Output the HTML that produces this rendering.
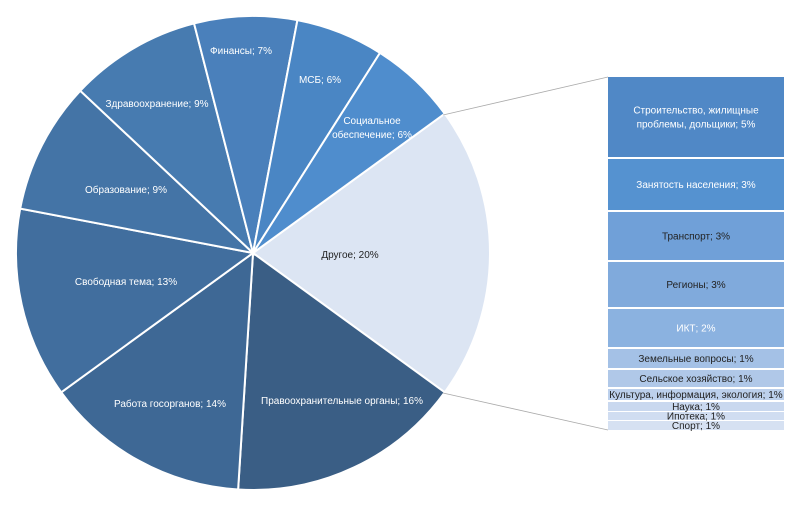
<!DOCTYPE html><html><head><meta charset="utf-8"><style>body{margin:0;background:#fff}svg text{font-family:"Liberation Sans","DejaVu Sans",sans-serif;font-size:10px;fill:#fff;text-anchor:middle}</style></head><body>
<svg id="s" width="800" height="509" viewBox="0 0 800 509">
<g id="pie"></g>
<line x1="443" y1="115" x2="608" y2="77" stroke="#aaa" stroke-width="0.8"/>
<line x1="443" y1="393" x2="608" y2="430" stroke="#aaa" stroke-width="0.8"/>
<g id="bars"></g>
<g id="t">
<text x="350" y="258" style="fill:#222">Другое; 20%</text>
<text x="342" y="404">Правоохранительные органы; 16%</text>
<text x="170" y="407">Работа госорганов; 14%</text>
<text x="126" y="285">Свободная тема; 13%</text>
<text x="126" y="193">Образование; 9%</text>
<text x="157" y="107">Здравоохранение; 9%</text>
<text x="241" y="54">Финансы; 7%</text>
<text x="320" y="83">МСБ; 6%</text>
<text x="372" y="124">Социальное</text>
<text x="372" y="138">обеспечение; 6%</text>
</g>
<g id="bt" style="fill:#222"></g>
</svg>
<script>
var cx=253,cy=253,r=237,ns="http://www.w3.org/2000/svg";
var sl=[[20,"#dce5f3"],[16,"#3a5e85"],[14,"#3e6895"],[13,"#416e9e"],[9,"#4474a6"],[9,"#477bb0"],[7,"#4a80bb"],[6,"#4a86c4"],[6,"#4f8dcd"]];
var a=-36,pie=document.getElementById("pie");
sl.forEach(function(s){var b=a+s[0]*3.6;var r1=a*Math.PI/180,r2=b*Math.PI/180;
var p=document.createElementNS(ns,"path");
p.setAttribute("d","M"+cx+","+cy+"L"+(cx+r*Math.cos(r1))+","+(cy+r*Math.sin(r1))+"A"+r+","+r+" 0 "+(b-a>180?1:0)+",1 "+(cx+r*Math.cos(r2))+","+(cy+r*Math.sin(r2))+"Z");
p.setAttribute("fill",s[1]);p.setAttribute("stroke","#fff");p.setAttribute("stroke-width","2");pie.appendChild(p);a=b;});
var bars=[[77,157,"#5088c6",["Строительство, жилищные","проблемы, дольщики; 5%"],1],[159,210,"#5592d0",["Занятость населения; 3%"],1],[212,260,"#70a0d8",["Транспорт; 3%"],0],[262,307,"#80aadc",["Регионы; 3%"],0],[309,347,"#8bb2e0",["ИКТ; 2%"],1],[349,368,"#a4c1e6",["Земельные вопросы; 1%"],0],[370,387,"#b0c8e8",["Сельское хозяйство; 1%"],0],[389,400,"#bcd0ec",["Культура, информация, экология; 1%"],0],[402,411,"#c9d8ef",["Наука; 1%"],0],[412,420,"#d0ddf1",["Ипотека; 1%"],0],[421,430,"#d6e1f2",["Спорт; 1%"],0]];
var g=document.getElementById("bars"),bt=document.getElementById("bt");
bars.forEach(function(b){var R=document.createElementNS(ns,"rect");R.setAttribute("x",608);R.setAttribute("y",b[0]);R.setAttribute("width",176);R.setAttribute("height",b[1]-b[0]);R.setAttribute("fill",b[2]);g.appendChild(R);
var m=(b[0]+b[1])/2,n=b[3].length;b[3].forEach(function(l,i){var T=document.createElementNS(ns,"text");T.setAttribute("x",696);T.setAttribute("y",m+3.5+(i-(n-1)/2)*14);if(b[1]-b[0]<20)T.setAttribute("font-size","9.5");T.style.fill=b[4]?"#fff":"#222";T.textContent=l;bt.appendChild(T);});});
</script>
</body></html>
